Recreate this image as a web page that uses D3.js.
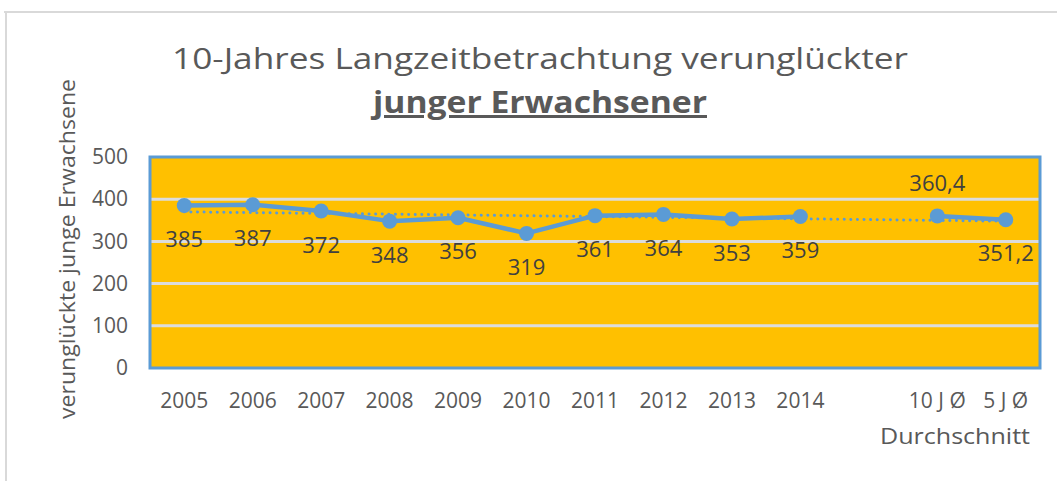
<!DOCTYPE html>
<html>
<head>
<meta charset="utf-8">
<style>
  body { margin: 0; background: #fff; }
  svg { display: block; font-family: "Open Sans", sans-serif; }
  .tick text { fill: #595959; }
</style>
</head>
<body>
<div id="chart"></div>
<script src="https://d3js.org/d3.v7.min.js"></script>
<script>
// chart data
var categories = ["2005", "2006", "2007", "2008", "2009", "2010", "2011", "2012", "2013", "2014", "", "10 J Ø", "5 J Ø"];
var values = [385, 387, 372, 348, 356, 319, 361, 364, 353, 359, null, 360.4, 351.2];
var trendEnds = [370, 348]; // linear trendline, first and last category
var yTicks = [0, 100, 200, 300, 400, 500];

var width = 1057, height = 481;
var plot = { left: 150, top: 157, right: 1040, bottom: 368 };

var svg = d3.select("#chart").append("svg")
    .attr("width", width)
    .attr("height", height);

svg.append("rect").attr("width", width).attr("height", height).attr("fill", "#fff");

// outer chart frame (only top and left visible)
svg.append("path")
    .attr("d", "M4,12H1057M6,12V481")
    .attr("fill", "none")
    .attr("stroke", "#d9d9d9")
    .attr("stroke-width", 2);

var x = d3.scaleBand()
    .domain(d3.range(categories.length))
    .range([plot.left, plot.right]);

var y = d3.scaleLinear()
    .domain([0, 500])
    .range([plot.bottom, plot.top]);

var cx = function(i) { return x(i) + x.bandwidth() / 2; };

// plot area
svg.append("rect")
    .attr("x", plot.left)
    .attr("y", plot.top)
    .attr("width", plot.right - plot.left)
    .attr("height", plot.bottom - plot.top)
    .attr("fill", "#ffc000");

// gridlines
svg.append("g")
    .selectAll("line")
    .data(yTicks.filter(function(t) { return t > 0 && t < 500; }))
  .enter().append("line")
    .attr("x1", plot.left)
    .attr("x2", plot.right)
    .attr("y1", function(d) { return y(d); })
    .attr("y2", function(d) { return y(d); })
    .attr("stroke", "#dcdcdc")
    .attr("stroke-width", 3);

svg.append("rect")
    .attr("x", plot.left)
    .attr("y", plot.top)
    .attr("width", plot.right - plot.left)
    .attr("height", plot.bottom - plot.top)
    .attr("fill", "none")
    .attr("stroke", "#5b9bd5")
    .attr("stroke-width", 3);

// y axis
var yAxis = svg.append("g")
    .attr("transform", "translate(" + plot.left + ",0)")
    .call(d3.axisLeft(y).tickValues(yTicks).tickSize(0).tickPadding(22));
yAxis.select(".domain").remove();
yAxis.selectAll("text").attr("font-size", 21).attr("font-family", "Open Sans");

// x axis
var xAxis = svg.append("g")
    .attr("transform", "translate(0," + plot.bottom + ")")
    .call(d3.axisBottom(x).tickFormat(function(i) { return categories[i]; }).tickSize(0).tickPadding(25));
xAxis.select(".domain").remove();
xAxis.selectAll("text").attr("font-size", 21).attr("font-family", "Open Sans");

svg.append("text")
    .attr("x", 1030)
    .attr("y", 444)
    .attr("text-anchor", "end")
    .attr("font-size", 21)
    .attr("textLength", 150)
    .attr("lengthAdjust", "spacingAndGlyphs")
    .attr("fill", "#595959")
    .text("Durchschnitt");

// y axis title
svg.append("text")
    .attr("transform", "translate(75,249) rotate(-90)")
    .attr("text-anchor", "middle")
    .attr("font-size", 21)
    .attr("textLength", 340)
    .attr("lengthAdjust", "spacingAndGlyphs")
    .attr("fill", "#595959")
    .text("verunglückte junge Erwachsene");

// titles
svg.append("text")
    .attr("x", 540)
    .attr("y", 69)
    .attr("text-anchor", "middle")
    .attr("font-size", 30)
    .attr("textLength", 736)
    .attr("lengthAdjust", "spacingAndGlyphs")
    .attr("fill", "#595959")
    .text("10-Jahres Langzeitbetrachtung verunglückter");

svg.append("text")
    .attr("x", 540)
    .attr("y", 113)
    .attr("text-anchor", "middle")
    .attr("font-size", 30)
    .attr("font-weight", "bold")
    .attr("textLength", 334)
    .attr("lengthAdjust", "spacingAndGlyphs")
    .attr("text-decoration", "underline")
    .attr("fill", "#595959")
    .text("junger Erwachsener");

// trendline (dotted)
var last = categories.length - 1;
svg.append("line")
    .attr("x1", cx(0))
    .attr("y1", y(trendEnds[0]))
    .attr("x2", cx(last))
    .attr("y2", y(trendEnds[1]))
    .attr("stroke", "#5b9bd5")
    .attr("stroke-width", 3)
    .attr("stroke-linecap", "round")
    .attr("stroke-dasharray", "0.1 6.5");

// series line
var line = d3.line()
    .defined(function(d) { return d != null; })
    .x(function(d, i) { return cx(i); })
    .y(function(d) { return y(d); });

svg.append("path")
    .datum(values)
    .attr("fill", "none")
    .attr("stroke", "#5b9bd5")
    .attr("stroke-width", 4.5)
    .attr("stroke-linejoin", "round")
    .attr("d", line);

var pts = values.map(function(v, i) { return { v: v, i: i }; })
    .filter(function(d) { return d.v != null; });

svg.append("g")
    .selectAll("circle")
    .data(pts)
  .enter().append("circle")
    .attr("cx", function(d) { return cx(d.i); })
    .attr("cy", function(d) { return y(d.v); })
    .attr("r", 7.5)
    .attr("fill", "#5b9bd5");

// data labels
var fmt = function(v) { return Number.isInteger(v) ? String(v) : String(v).replace(".", ","); };
svg.append("g")
    .selectAll("text")
    .data(pts)
  .enter().append("text")
    .attr("x", function(d) { return cx(d.i); })
    .attr("y", function(d) { return y(d.v) + (categories[d.i] === "10 J Ø" ? -33 : 34); })
    .attr("dy", "0.35em")
    .attr("text-anchor", "middle")
    .attr("font-size", 22)
    .attr("fill", "#404040")
    .text(function(d) { return fmt(d.v); });
</script>
</body>
</html>
